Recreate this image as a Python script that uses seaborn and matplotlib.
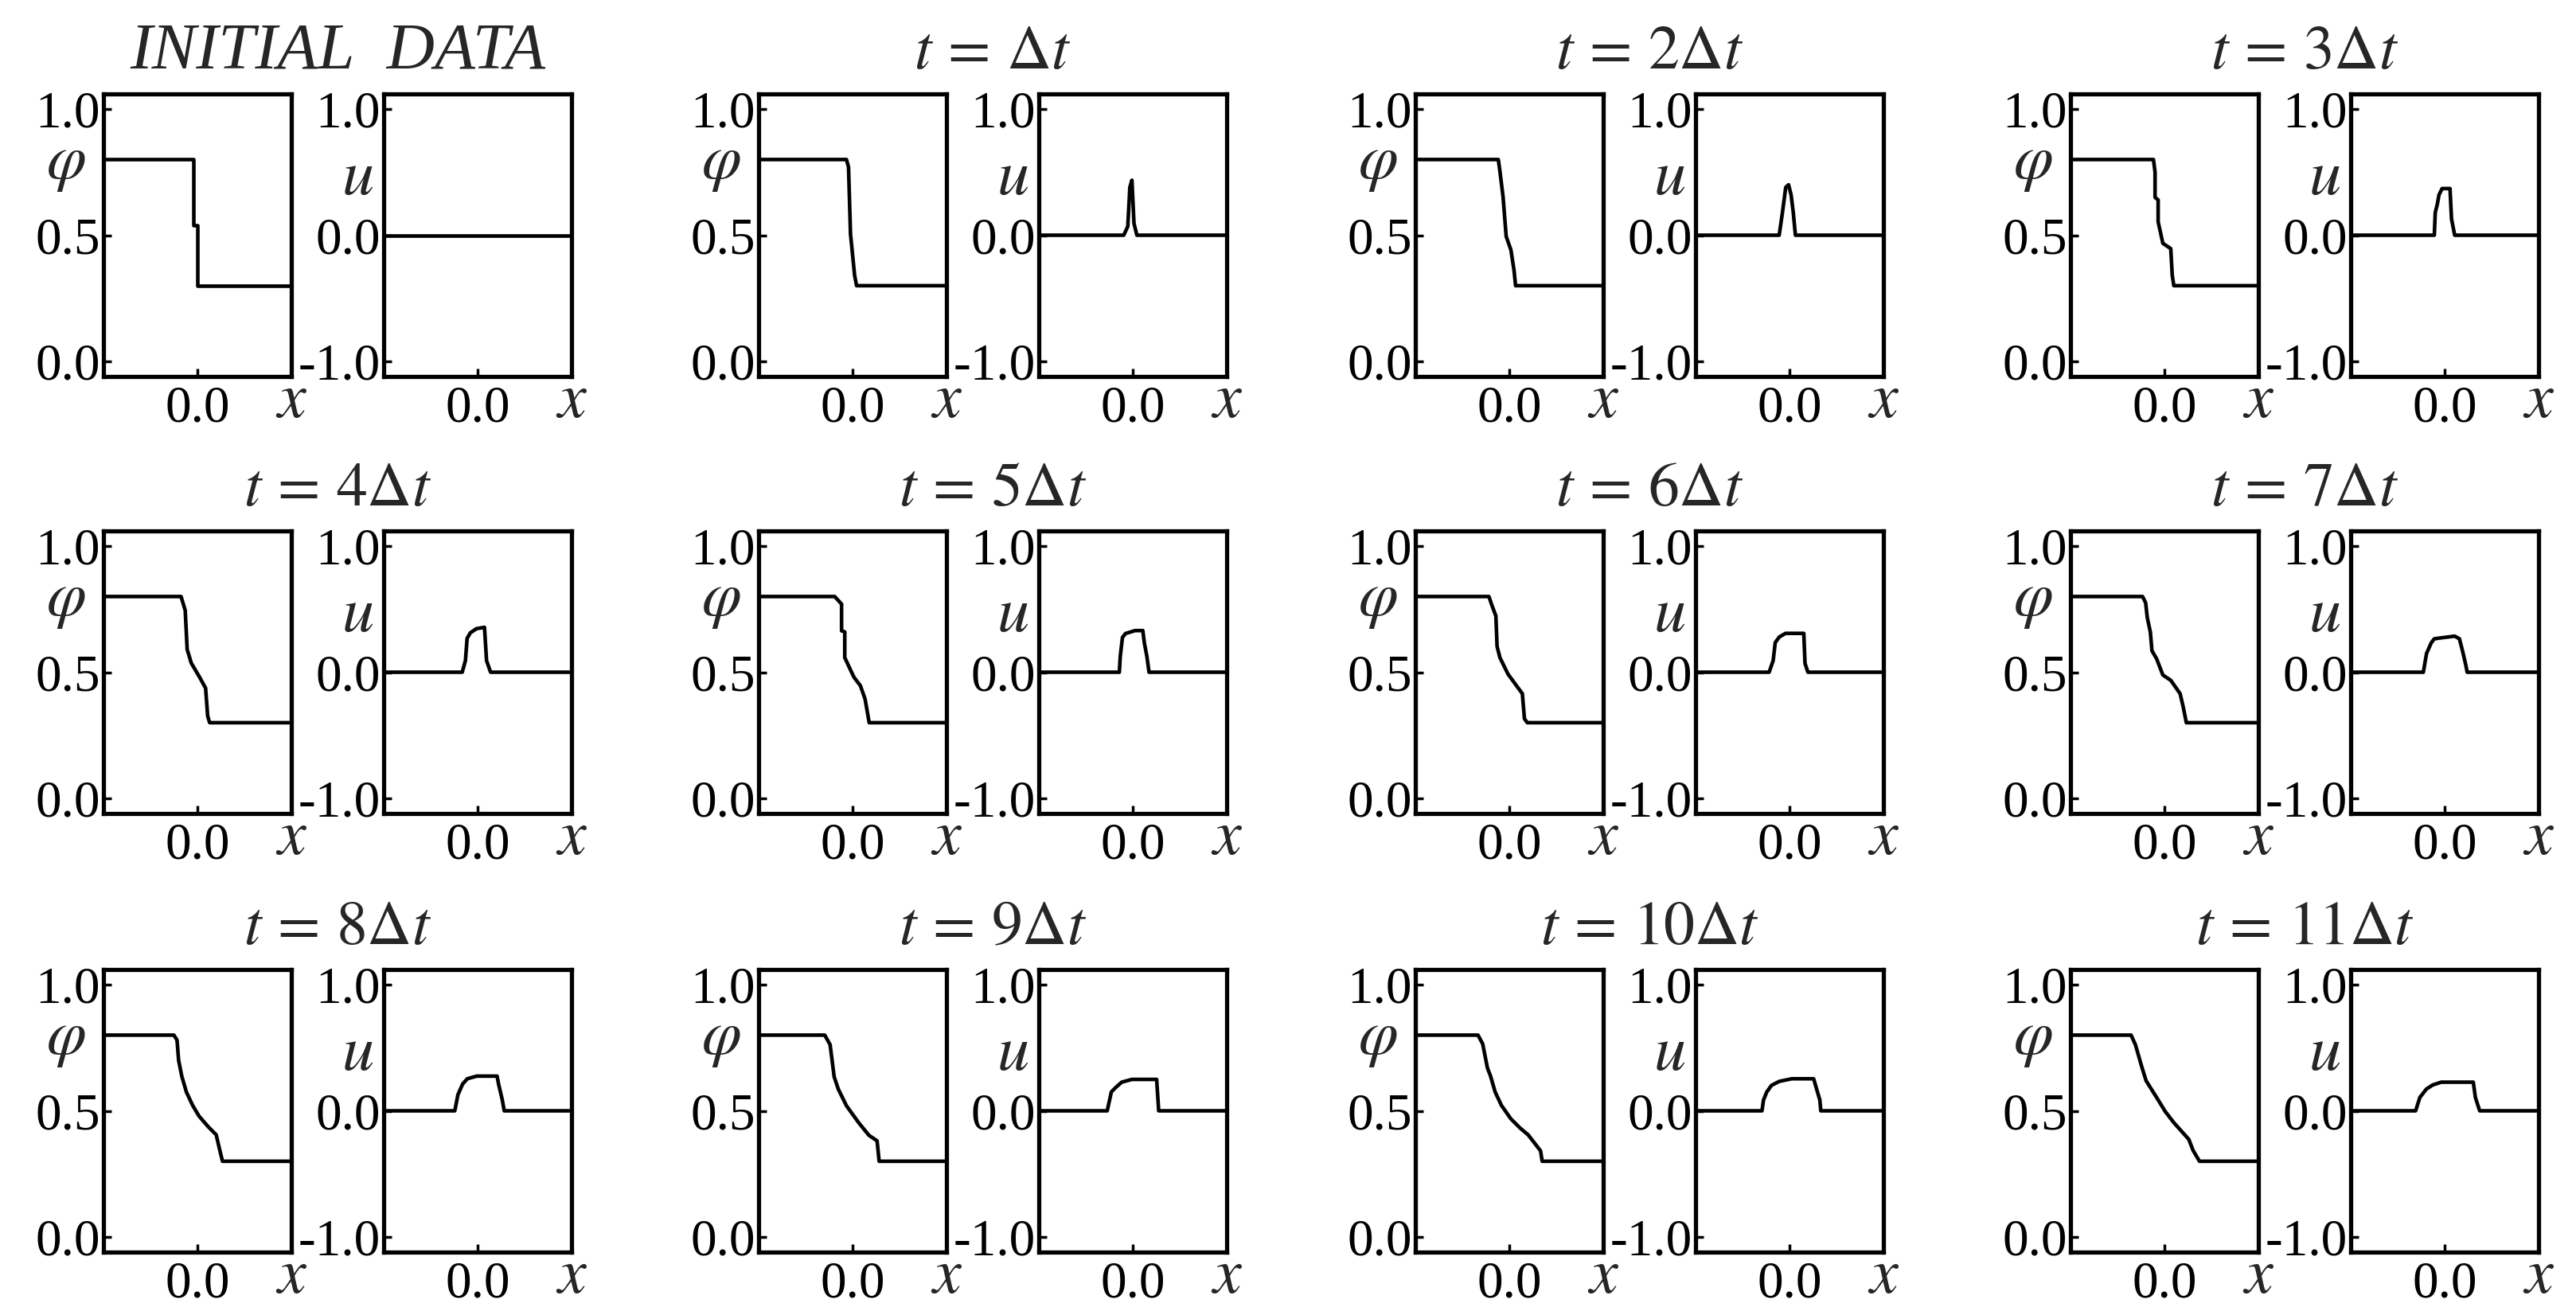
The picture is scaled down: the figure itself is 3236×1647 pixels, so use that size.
import matplotlib
matplotlib.use("Agg")
import matplotlib.pyplot as plt
import seaborn as sns

# panel titles
titles = ["INITIAL  DATA", r"$t\,=\,\Delta t$", r"$t\,=\,2\Delta t$", r"$t\,=\,3\Delta t$",
          r"$t\,=\,4\Delta t$", r"$t\,=\,5\Delta t$", r"$t\,=\,6\Delta t$", r"$t\,=\,7\Delta t$",
          r"$t\,=\,8\Delta t$", r"$t\,=\,9\Delta t$", r"$t\,=\,10\Delta t$", r"$t\,=\,11\Delta t$"]

# phi profiles (x, phi)
phi_x_t0 = [-1.0, -0.04, -0.04, 0.0, 0.0, 1.0]
phi_t0 = [0.80, 0.80, 0.54, 0.54, 0.30, 0.30]
phi_x_t1 = [-1.0, -0.065, -0.043, -0.022, 0.022, 0.043, 1.0]
phi_t1 = [0.80, 0.80, 0.77, 0.505, 0.34, 0.30, 0.30]
phi_x_t2 = [-1.0, -0.117, -0.10, -0.067, -0.033, 0.017, 0.05, 0.067, 1.0]
phi_t2 = [0.80, 0.80, 0.754, 0.654, 0.495, 0.442, 0.362, 0.30, 0.30]
phi_x_t3 = [-1.0, -0.117, -0.10, -0.10, -0.067, -0.067, -0.017, 0.067, 0.083, 0.10, 1.0]
phi_t3 = [0.80, 0.80, 0.75, 0.65, 0.64, 0.553, 0.468, 0.447, 0.341, 0.30, 0.30]
phi_x_t4 = [-1.0, -0.174, -0.13, -0.109, -0.065, 0.022, 0.087, 0.109, 0.13, 1.0]
phi_t4 = [0.80, 0.80, 0.745, 0.59, 0.536, 0.481, 0.437, 0.327, 0.30, 0.30]
phi_x_t5 = [-1.0, -0.19, -0.117, -0.117, -0.083, -0.083, -0.017, 0.017, 0.083, 0.133, 0.177, 1.0]
phi_t5 = [0.80, 0.80, 0.77, 0.664, 0.66, 0.558, 0.505, 0.479, 0.447, 0.394, 0.30, 0.30]
phi_x_t6 = [-1.0, -0.217, -0.187, -0.143, -0.13, -0.10, -0.013, 0.139, 0.161, 0.191, 1.0]
phi_t6 = [0.80, 0.80, 0.767, 0.723, 0.602, 0.558, 0.492, 0.415, 0.316, 0.30, 0.30]
phi_x_t7 = [-1.0, -0.233, -0.20, -0.183, -0.15, -0.133, -0.083, -0.017, 0.067, 0.167, 0.20, 0.233, 1.0]
phi_t7 = [0.80, 0.80, 0.775, 0.717, 0.659, 0.585, 0.553, 0.489, 0.468, 0.415, 0.362, 0.30, 0.30]
phi_x_t8 = [-1.0, -0.25, -0.217, -0.20, -0.167, -0.117, -0.05, 0.017, 0.117, 0.20, 0.233, 0.267, 1.0]
phi_t8 = [0.80, 0.80, 0.78, 0.70, 0.638, 0.574, 0.521, 0.479, 0.436, 0.405, 0.352, 0.30, 0.30]
phi_x_t9 = [-1.0, -0.296, -0.239, -0.196, -0.152, -0.065, 0.065, 0.174, 0.261, 0.283, 1.0]
phi_t9 = [0.80, 0.80, 0.762, 0.635, 0.586, 0.52, 0.453, 0.403, 0.381, 0.30, 0.30]
phi_x_t10 = [-1.0, -0.333, -0.283, -0.233, -0.20, -0.15, -0.083, 0.017, 0.117, 0.20, 0.267, 0.333, 0.35, 1.0]
phi_t10 = [0.80, 0.80, 0.765, 0.67, 0.638, 0.574, 0.521, 0.468, 0.431, 0.405, 0.373, 0.341, 0.30, 0.30]
phi_x_t11 = [-1.0, -0.355, -0.309, -0.241, -0.195, -0.082, 0.009, 0.10, 0.259, 0.305, 0.373, 1.0]
phi_t11 = [0.80, 0.80, 0.762, 0.674, 0.619, 0.552, 0.497, 0.453, 0.387, 0.343, 0.30, 0.30]

# u profiles (x, u)
u_x_t0 = [-1.0, 1.0]
u_t0 = [0.0, 0.0]
u_x_t1 = [-1.0, -0.096, -0.053, -0.031, -0.009, 0.013, 0.044, 1.0]
u_t1 = [0, 0, 0.07, 0.38, 0.436, 0.093, 0, 0]
u_x_t2 = [-1.0, -0.11, -0.077, -0.04, -0.01, 0.017, 0.04, 0.063, 1.0]
u_t2 = [0, 0, 0.17, 0.38, 0.40, 0.32, 0.18, 0, 0]
u_x_t3 = [-1.0, -0.11, -0.10, -0.077, -0.06, -0.027, 0.057, 0.073, 0.107, 1.0]
u_t3 = [0, 0, 0.18, 0.25, 0.32, 0.37, 0.37, 0.13, 0, 0]
u_x_t4 = [-1.0, -0.164, -0.13, -0.112, -0.078, -0.013, 0.073, 0.095, 0.138, 1.0]
u_t4 = [0, 0, 0.092, 0.268, 0.312, 0.345, 0.356, 0.092, 0, 0]
u_x_t5 = [-1.0, -0.143, -0.133, -0.11, -0.077, -0.027, 0.023, 0.107, 0.123, 0.15, 0.173, 1.0]
u_t5 = [0, 0, 0.127, 0.275, 0.307, 0.318, 0.33, 0.33, 0.233, 0.127, 0, 0]
u_x_t6 = [-1.0, -0.217, -0.174, -0.152, -0.109, -0.043, 0.152, 0.165, 0.196, 1.0]
u_t6 = [0, 0, 0.092, 0.235, 0.279, 0.308, 0.308, 0.07, 0, 0]
u_x_t7 = [-1.0, -0.227, -0.193, -0.143, -0.11, -0.01, 0.107, 0.157, 0.19, 0.223, 0.24, 1.0]
u_t7 = [0, 0, 0.148, 0.233, 0.265, 0.275, 0.286, 0.265, 0.17, 0.064, 0, 0]
u_x_t8 = [-1.0, -0.243, -0.21, -0.16, -0.11, -0.01, 0.207, 0.223, 0.263, 0.283, 1.0]
u_t8 = [0, 0, 0.127, 0.212, 0.254, 0.275, 0.275, 0.212, 0.085, 0, 0]
u_x_t9 = [-1.0, -0.272, -0.228, -0.184, -0.118, -0.009, 0.254, 0.276, 1.0]
u_t9 = [0, 0, 0.15, 0.183, 0.227, 0.249, 0.249, 0, 0]
u_x_t10 = [-1.0, -0.293, -0.277, -0.243, -0.193, -0.11, 0.023, 0.257, 0.29, 0.323, 0.333, 1.0]
u_t10 = [0, 0, 0.085, 0.148, 0.201, 0.233, 0.254, 0.254, 0.169, 0.085, 0, 0]
u_x_t11 = [-1.0, -0.309, -0.264, -0.195, -0.127, -0.036, 0.305, 0.327, 0.373, 1.0]
u_t11 = [0, 0, 0.106, 0.172, 0.205, 0.227, 0.227, 0.106, 0, 0]

phi_ticks = [0.0, 0.5, 1.0]
phi_ticklabels = ["0.0", "0.5", "1.0"]
u_ticks = [-1.0, 0.0, 1.0]
u_ticklabels = ["-1.0", "0.0", "1.0"]

phi_steps = [(phi_x_t0, phi_t0), (phi_x_t1, phi_t1), (phi_x_t2, phi_t2), (phi_x_t3, phi_t3),
             (phi_x_t4, phi_t4), (phi_x_t5, phi_t5), (phi_x_t6, phi_t6), (phi_x_t7, phi_t7),
             (phi_x_t8, phi_t8), (phi_x_t9, phi_t9), (phi_x_t10, phi_t10), (phi_x_t11, phi_t11)]
u_steps = [(u_x_t0, u_t0), (u_x_t1, u_t1), (u_x_t2, u_t2), (u_x_t3, u_t3),
           (u_x_t4, u_t4), (u_x_t5, u_t5), (u_x_t6, u_t6), (u_x_t7, u_t7),
           (u_x_t8, u_t8), (u_x_t9, u_t9), (u_x_t10, u_t10), (u_x_t11, u_t11)]

# style
sns.set_style("ticks")
plt.rcParams["font.family"] = ["Liberation Serif", "DejaVu Serif"]
plt.rcParams["mathtext.fontset"] = "stix"
plt.rcParams["axes.unicode_minus"] = False

W, H = 3236, 1647
fig = plt.figure(figsize=(W / 100, H / 100), dpi=100)

group_left = [130, 953, 1778, 2601]
row_top = [118, 667, 1218]
pw, ph = 236, 355
u_off = 352

tick_fs = 47
lab_fs = 58


def style_axes(ax, ticks, ticklabels, ylim):
    ax.set_xlim(-1, 1)
    ax.set_ylim(*ylim)
    ax.set_xticks([0.0])
    ax.set_xticklabels(["0.0"])
    ax.set_yticks(ticks)
    ax.set_yticklabels(ticklabels)
    ax.set_xlabel("")
    ax.set_ylabel("")
    ax.tick_params(direction="in", length=7, width=2.5, labelsize=tick_fs,
                   top=False, right=False, colors="black")
    ax.tick_params(axis="y", pad=3)
    ax.tick_params(axis="x", pad=8)
    for s in ax.spines.values():
        s.set_linewidth(3.8)
        s.set_color("black")
    ax.text(1.0, -0.09, r"$x$", transform=ax.transAxes, ha="center", va="center",
            fontsize=lab_fs)


for i in range(12):
    r, c = divmod(i, 4)
    left = group_left[c]
    top = row_top[r]
    bottom_frac = 1 - (top + ph) / H

    ax1 = fig.add_axes([left / W, bottom_frac, pw / W, ph / H])
    px, py = phi_steps[i]
    sns.lineplot(x=px, y=py, ax=ax1, color="black", linewidth=3.3,
                 estimator=None, sort=False)
    style_axes(ax1, phi_ticks, phi_ticklabels, (-0.06, 1.06))
    ax1.text(-0.2, 0.75, r"$\varphi$", transform=ax1.transAxes, ha="center",
             va="center", fontsize=lab_fs)

    ax2 = fig.add_axes([(left + u_off) / W, bottom_frac, pw / W, ph / H])
    ux, uy = u_steps[i]
    sns.lineplot(x=ux, y=uy, ax=ax2, color="black", linewidth=3.3,
                 estimator=None, sort=False)
    style_axes(ax2, u_ticks, u_ticklabels, (-1.12, 1.12))
    ax2.text(-0.14, 0.70, r"$u$", transform=ax2.transAxes, ha="center",
             va="center", fontsize=lab_fs)

    cx = (left + (u_off + pw) / 2) / W
    ty = 1 - (top - 32) / H
    if i == 0:
        fig.text(cx, ty, titles[i], ha="center", va="baseline", fontsize=60,
                 style="italic")
    else:
        fig.text(cx, ty, titles[i], ha="center", va="baseline", fontsize=56)

fig.savefig("out.png", dpi=100, facecolor="white")
